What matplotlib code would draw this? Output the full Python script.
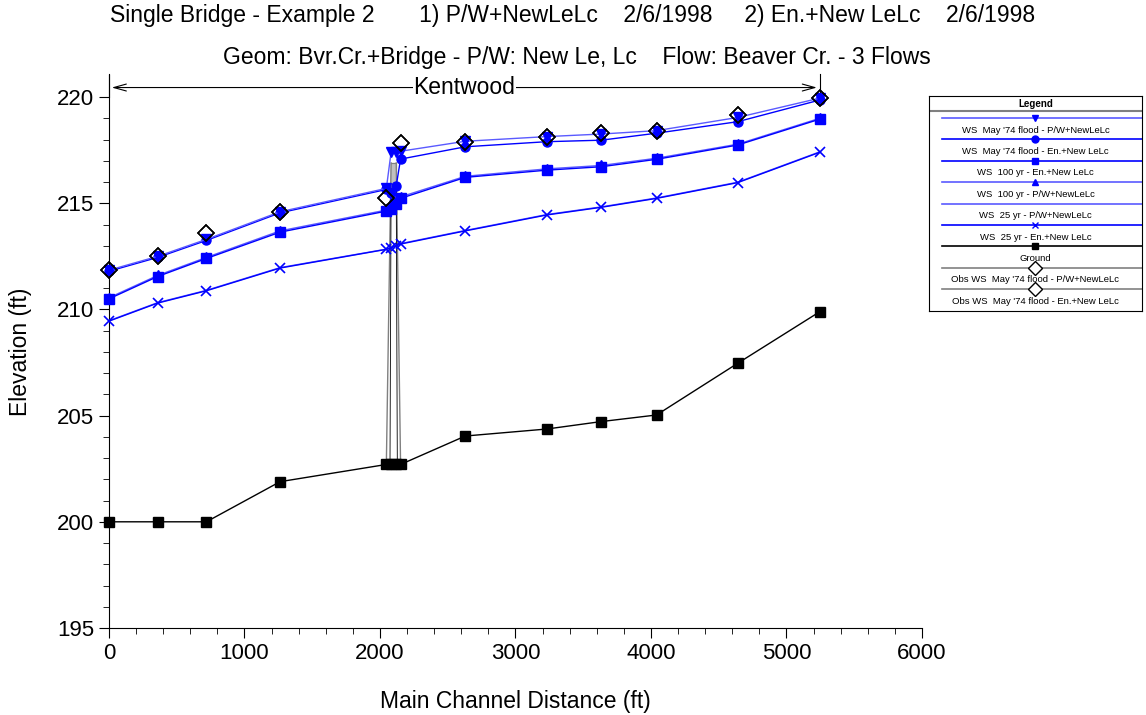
import matplotlib
matplotlib.use('Agg')
import matplotlib.pyplot as plt

plt.rcParams['font.family'] = ['Liberation Sans', 'DejaVu Sans']

# river stations along the main channel (ft)
stations = [0, 359, 719, 1263, 2047, 2082, 2120, 2152, 2630, 3232, 3633, 4041, 4639, 5245]

ws_may74_pw = [211.85, 212.5, 213.3, 214.6, 215.7, 217.4, 217.4, 217.45, 217.92, 218.14, 218.26, 218.42, 219.04, 219.95]
ws_may74_en = [211.8, 212.45, 213.25, 214.55, 215.65, 215.5, 215.83, 217.08, 217.66, 217.9, 217.97, 218.3, 218.84, 219.86]
ws_100_en = [210.5, 211.55, 212.4, 213.64, 214.63, 214.71, 214.95, 215.23, 216.22, 216.56, 216.72, 217.07, 217.74, 218.96]
ws_100_pw = [210.55, 211.6, 212.45, 213.7, 214.68, 215.0, 215.1, 215.3, 216.27, 216.62, 216.78, 217.12, 217.78, 219.0]
ws_25_pw = [209.47, 210.32, 210.9, 211.97, 212.84, 212.92, 213.0, 213.1, 213.72, 214.47, 214.83, 215.25, 215.99, 217.42]
ws_25_en = [209.45, 210.3, 210.88, 211.95, 212.83, 212.9, 213.0, 213.08, 213.7, 214.45, 214.81, 215.23, 215.97, 217.4]
ground = [200.0, 200.0, 200.0, 201.89, 202.7, 202.7, 202.7, 202.7, 204.04, 204.37, 204.72, 205.03, 207.46, 209.89]

obs_x = [0, 359, 719, 1263, 2047, 2152, 2630, 3232, 3633, 4041, 4639, 5245]
obs_pw = [211.85, 212.5, 213.58, 214.6, 215.23, 217.82, 217.9, 218.1, 218.3, 218.42, 219.15, 219.98]
obs_en = [211.85, 212.5, 213.58, 214.6, 215.23, 217.82, 217.9, 218.1, 218.3, 218.42, 219.15, 219.98]

# bridge outline
bridge_x = [2047, 2082, 2120, 2152]
deck_low = 215.7
deck_high = 216.9

titel1 = 'Single Bridge - Example 2       1) P/W+NewLeLc    2/6/1998     2) En.+New LeLc    2/6/1998'
titel2 = 'Geom: Bvr.Cr.+Bridge - P/W: New Le, Lc    Flow: Beaver Cr. - 3 Flows'

blau = '#0000ff'
hellblau = '#5a5aff'
fs = 16.5

fig = plt.figure(figsize=(11.46, 7.15), dpi=100)
ax = fig.add_axes([0.0951, 0.1217, 0.7094, 0.7734])

# bridge
ax.fill_between(bridge_x[1:3], deck_low, deck_high, color='#c0c0c0', zorder=1)
ax.plot([bridge_x[1], bridge_x[2]], [deck_high, deck_high], color='#808080', lw=0.8, zorder=1)
ax.plot([bridge_x[1], bridge_x[2]], [deck_low, deck_low], color='#808080', lw=0.8, zorder=1)
ax.plot([bridge_x[0], bridge_x[1]], [ground[4], deck_high], color='#808080', lw=1.0, zorder=1)
ax.plot([bridge_x[3], bridge_x[2]], [ground[7], deck_high], color='#808080', lw=1.0, zorder=1)
ax.plot([bridge_x[1] - 8, bridge_x[1]], [ground[5], deck_low], color='black', lw=0.6, zorder=1)
ax.plot([bridge_x[2] + 8, bridge_x[2]], [ground[6], deck_low], color='black', lw=0.6, zorder=1)

# water surfaces
ax.plot(stations, ws_25_pw, color=hellblau, lw=1, zorder=3, clip_on=False)
ax.plot(stations, ws_25_en, color=blau, lw=1, marker='x', ms=7, mew=1.2, zorder=3, clip_on=False)
ax.plot(stations, ws_100_pw, color=hellblau, lw=1, marker='^', ms=6.5, mfc=blau, mec=blau, zorder=3, clip_on=False)
ax.plot(stations, ws_100_en, color=blau, lw=1, marker='s', ms=6.5, zorder=3, clip_on=False)
ax.plot(stations, ws_may74_en, color=blau, lw=1, marker='o', ms=6.5, zorder=3, clip_on=False)
ax.plot(stations, ws_may74_pw, color=hellblau, lw=1, marker='v', ms=6.5, mfc=blau, mec=blau, zorder=3, clip_on=False)

# ground
ax.plot(stations, ground, color='black', lw=1, marker='s', ms=6.5, zorder=4, clip_on=False)

# observed
ax.plot(obs_x, obs_pw, ls='none', marker='D', ms=8.5, mfc='none', mec='black', mew=1.1, zorder=5, clip_on=False)
ax.plot(obs_x, obs_en, ls='none', marker='D', ms=8.5, mfc='none', mec='black', mew=1.1, zorder=5, clip_on=False)

ax.set_xlim(0, 6000)
ax.set_ylim(195, 221.04)
ax.set_xticks(range(0, 6001, 1000))
ax.set_xticks(range(0, 6001, 200), minor=True)
ax.set_yticks(range(195, 221, 5))
ax.set_yticks(range(195, 221, 1), minor=True)
ax.spines['top'].set_visible(False)
ax.spines['right'].set_visible(False)
ax.tick_params(axis='both', which='major', direction='out', length=7, labelsize=16)
ax.tick_params(axis='both', which='minor', direction='out', length=4)
ax.set_xlabel('Main Channel Distance (ft)', fontsize=fs, labelpad=19)
ax.set_ylabel('Elevation (ft)', fontsize=fs, labelpad=18)

# Kentwood reach marker
k_y = 220.45
ax.annotate('', xy=(0, k_y), xytext=(5245, k_y), xycoords='data',
            arrowprops=dict(arrowstyle='<->,head_length=0.9,head_width=0.25', lw=0.8, color='black'),
            annotation_clip=False)
ax.plot([0, 0], [220.0, 221.1], color='black', lw=0.8, clip_on=False)
ax.plot([5245, 5245], [220.0, 221.1], color='black', lw=0.8, clip_on=False)
ax.text(5245 / 2.0, k_y, 'Kentwood', ha='center', va='center', fontsize=fs,
        bbox=dict(facecolor='white', edgecolor='none', pad=0.5), clip_on=False)

fig.text(0.5, 0.979, titel1, ha='center', va='center', fontsize=fs)
fig.text(0.503, 0.919, titel2, ha='center', va='center', fontsize=fs)

# legend box
lax = fig.add_axes([0.8106, 0.565, 0.1859, 0.3007])
lax.set_xlim(0, 1)
lax.set_ylim(0, 1)
lax.set_xticks([])
lax.set_yticks([])
for s in lax.spines.values():
    s.set_linewidth(0.8)

eintraege = [
    ("WS  May '74 flood - P/W+NewLeLc", hellblau, 'v', blau),
    ("WS  May '74 flood - En.+New LeLc", blau, 'o', blau),
    ("WS  100 yr - En.+New LeLc", blau, 's', blau),
    ("WS  100 yr - P/W+NewLeLc", hellblau, '^', blau),
    ("WS  25 yr - P/W+NewLeLc", hellblau, None, blau),
    ("WS  25 yr - En.+New LeLc", blau, 'x', blau),
    ("Ground", 'black', 's', 'black'),
    ("Obs WS  May '74 flood - P/W+NewLeLc", '#808080', 'D', 'none'),
    ("Obs WS  May '74 flood - En.+New LeLc", '#808080', 'D', 'none'),
]
hoehe = 215.0
lax.text(0.5, 1 - 8.0 / hoehe, 'Legend', ha='center', va='center', fontsize=7, fontweight='bold')
lax.plot([0.0, 1.0], [1 - 15.0 / hoehe, 1 - 15.0 / hoehe], color='#808080', lw=1.5)
for i, (name, farbe, marker, mfarbe) in enumerate(eintraege):
    ly = 1 - (22.0 + 21.4 * i) / hoehe
    ty = 1 - (34.0 + 21.4 * i) / hoehe
    lax.plot([0.06, 1.0], [ly, ly], color=farbe, lw=1.2)
    if marker is not None:
        if marker == 'D':
            lax.plot([0.5], [ly], marker='D', ms=7, mfc='white', mec='black', mew=1)
        elif marker == 'x':
            lax.plot([0.5], [ly], marker='x', ms=5, color=mfarbe, mew=1)
        else:
            lax.plot([0.5], [ly], marker=marker, ms=5, color=mfarbe)
    lax.text(0.5, ty, name, ha='center', va='center', fontsize=6.8)

fig.savefig('out.png', dpi=100)
